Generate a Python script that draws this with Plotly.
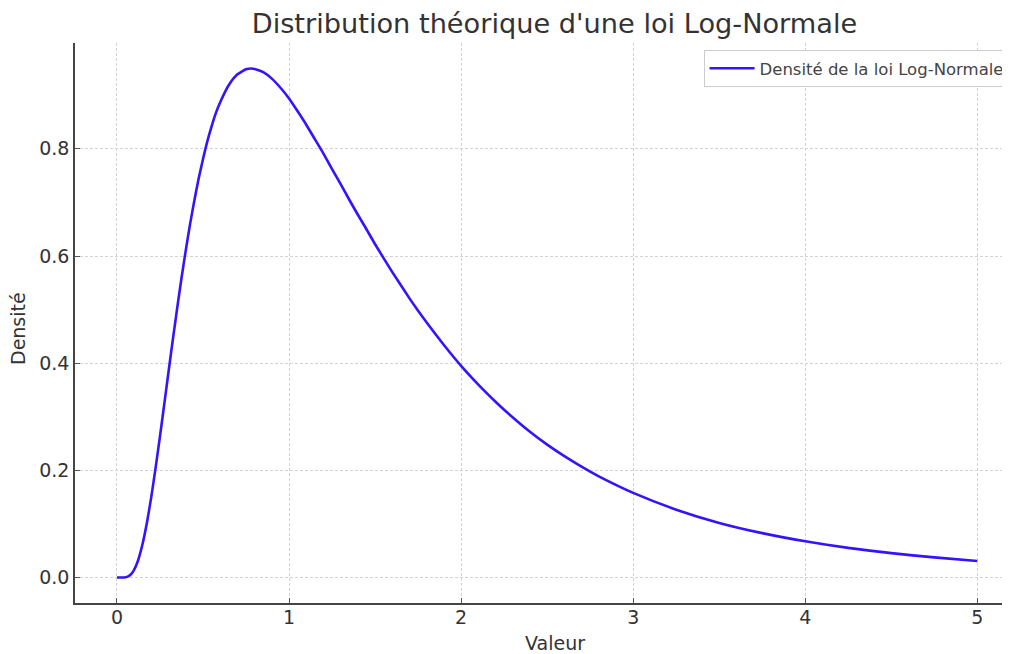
import plotly.graph_objects as go

# Values
x_vals = [0.0, 0.03, 0.05, 0.065, 0.08, 0.09, 0.1, 0.11, 0.125, 0.15, 0.175, 0.2, 0.225,
          0.25, 0.275, 0.3, 0.325, 0.35, 0.375, 0.4, 0.425, 0.45, 0.475, 0.5, 0.525, 0.55,
          0.575, 0.6, 0.65, 0.7, 0.75, 0.78, 0.8, 0.85, 0.9, 0.95, 1.0, 1.05, 1.1, 1.15,
          1.2, 1.25, 1.3, 1.35, 1.4, 1.45, 1.5, 1.6, 1.7, 1.75, 1.8, 1.9, 2.0, 2.1, 2.2,
          2.25, 2.4, 2.5, 2.6, 2.75, 2.8, 3.0, 3.25, 3.5, 3.75, 4.0, 4.25, 4.5, 4.75, 5.0]
density = [0.0, 0.0, 0.0005, 0.0021, 0.0056, 0.0094, 0.0146, 0.0214, 0.0345, 0.0645,
           0.104, 0.152, 0.206, 0.264, 0.324, 0.385, 0.445, 0.503, 0.559, 0.611, 0.660,
           0.704, 0.745, 0.781, 0.814, 0.842, 0.867, 0.887, 0.919, 0.939, 0.9486, 0.95,
           0.949, 0.943, 0.931, 0.914, 0.894, 0.870, 0.845, 0.818, 0.791, 0.762, 0.734,
           0.705, 0.677, 0.650, 0.622, 0.570, 0.521, 0.498, 0.476, 0.434, 0.395, 0.360,
           0.328, 0.313, 0.272, 0.248, 0.2265, 0.1975, 0.1889, 0.158, 0.1267, 0.102,
           0.0829, 0.0676, 0.0553, 0.0455, 0.0376, 0.031]
x_ticks = [0, 1, 2, 3, 4, 5]
y_ticks = [0.0, 0.2, 0.4, 0.6, 0.8]
y_tick_text = ["0.0", "0.2", "0.4", "0.6", "0.8"]

title = "Distribution théorique d'une loi Log-Normale"
series_name = "Densité de la loi Log-Normale"
x_title = "Valeur"
y_title = "Densité"

fig = go.Figure()
fig.add_trace(go.Scatter(
    x=x_vals, y=density, mode="lines", name=series_name,
    line=dict(color="#3414ff", width=2.6, shape="spline", smoothing=0.5),
))

font_family = "DejaVu Sans"
txt = "#333333"
# page has an 8px body margin, so the figure is 8px smaller than the window
fig.update_layout(
    width=1002, height=646,
    margin=dict(l=67, r=0, t=35, b=51, autoexpand=False),
    paper_bgcolor="white", plot_bgcolor="white",
    font=dict(family=font_family, color=txt, size=19),
    title=dict(text=title, xref="container", x=0.5454, xanchor="center",
               yref="container", y=0.9755, yanchor="middle",
               font=dict(size=27.2, color=txt, family=font_family)),
    showlegend=True,
    legend=dict(x=0.9995, y=0.9875, xanchor="right", yanchor="top",
                bgcolor="rgba(255,255,255,0.9)", bordercolor="#cccccc", borderwidth=1,
                font=dict(size=16.5, color="#444444", family=font_family),
                itemwidth=45),
    annotations=[
        dict(text=x_title, xref="paper", yref="paper", x=0.513, y=-0.0714,
             xanchor="center", yanchor="middle", showarrow=False,
             font=dict(size=19, color=txt, family=font_family)),
        dict(text=y_title, xref="paper", yref="paper", x=-0.061, y=0.491,
             xanchor="center", yanchor="middle", showarrow=False, textangle=-90,
             font=dict(size=19, color=txt, family=font_family)),
    ],
)
grid_dash = "3px,2px"
fig.update_xaxes(
    range=[-0.244, 5.19], tickvals=x_ticks, ticktext=[str(v) for v in x_ticks],
    showline=True, linecolor="#444444", linewidth=1.5, mirror=False,
    ticks="inside", ticklen=5, tickwidth=1.2, tickcolor="#555555",
    showgrid=True, gridcolor="#d3d3d3", griddash=grid_dash, gridwidth=1,
    zeroline=False, automargin=False, ticklabelstandoff=-4,
    tickfont=dict(size=19, color=txt),
)
fig.update_yaxes(
    range=[-0.0475, 0.9975], tickvals=y_ticks, ticktext=y_tick_text,
    showline=True, linecolor="#444444", linewidth=1.5, mirror=False,
    ticks="inside", ticklen=5, tickwidth=1.2, tickcolor="#555555",
    showgrid=True, gridcolor="#d3d3d3", griddash=grid_dash, gridwidth=1,
    zeroline=False, automargin=False,
    tickfont=dict(size=19, color=txt),
)

fig.write_html("out.html")
